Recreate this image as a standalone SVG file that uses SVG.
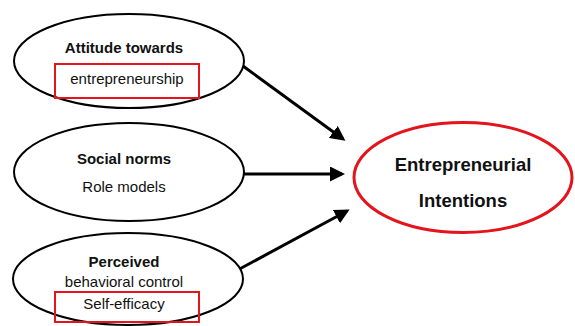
<svg xmlns="http://www.w3.org/2000/svg" width="575" height="326" viewBox="0 0 575 326">
<defs>
<style>
.node{fill:#fff;stroke:#000;stroke-width:2}
.target{fill:#fff;stroke:#e3141c;stroke-width:3}
.box{fill:none;stroke:#e3141c;stroke-width:2}
.b{font-family:"Liberation Sans",Arial,sans-serif;font-weight:bold;font-size:15px;fill:#111;text-anchor:middle}
.r{font-family:"Liberation Sans",Arial,sans-serif;font-size:15px;fill:#111;text-anchor:middle}
.big{font-family:"Liberation Sans",Arial,sans-serif;font-weight:bold;font-size:18.5px;fill:#111;text-anchor:middle}
.edge{stroke:#000;stroke-width:3;fill:none;marker-end:url(#ah)}
</style>
<marker id="ah" markerWidth="5" markerHeight="5" refX="4" refY="2.5" orient="auto" markerUnits="strokeWidth">
<path d="M0,0 L5,2.5 L0,5 Z" fill="#000"/>
</marker>
</defs>
<rect width="575" height="326" fill="#fff"/>
<g id="connectors">
<line class="edge" x1="243" y1="66" x2="343" y2="139"/>
<line class="edge" x1="244" y1="174" x2="342" y2="174"/>
<line class="edge" x1="234" y1="272" x2="347" y2="211"/>
</g>
<g id="attitude">
<ellipse class="node" cx="129" cy="61" rx="115" ry="47"/>
<text class="b" x="124" y="53">Attitude towards</text>
<rect class="box" x="55" y="64" width="144" height="34"/>
<text class="r" x="127" y="84">entrepreneurship</text>
</g>
<g id="social">
<ellipse class="node" cx="129" cy="172" rx="115" ry="49"/>
<text class="b" x="124" y="164">Social norms</text>
<text class="r" x="124" y="192">Role models</text>
</g>
<g id="perceived">
<ellipse class="node" cx="128" cy="279" rx="115" ry="46"/>
<text class="b" x="124" y="267">Perceived</text>
<text class="r" x="124" y="287">behavioral control</text>
<rect class="box" x="55" y="292" width="144" height="30"/>
<text class="r" x="124" y="309">Self-efficacy</text>
</g>
<g id="intentions">
<ellipse class="target" cx="463" cy="177.5" rx="109" ry="55"/>
<text class="big" x="463" y="171">Entrepreneurial</text>
<text class="big" x="463" y="207">Intentions</text>
</g>
</svg>
